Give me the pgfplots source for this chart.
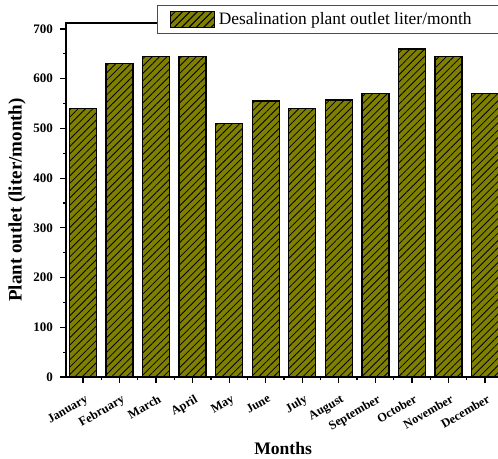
\documentclass[border=0pt]{standalone}
\usepackage{fontspec}
\setmainfont{Liberation Serif}
\usepackage{pgfplots}
\pgfplotsset{compat=1.18}
\usetikzlibrary{patterns.meta}
\definecolor{barolive}{RGB}{128,128,0}
\begin{document}
\begin{tikzpicture}
\begin{axis}[
  scale only axis, width=218pt, height=177pt,
  xmin=-0.465, xmax=11.465, ymin=0, ymax=712,
  ybar, bar width=13.5pt,
  xtick={0,...,11},
  xticklabels={January,February,March,April,May,June,July,August,September,October,November,December},
  minor x tick num=1,
  ytick={0,100,...,700}, minor y tick num=1,
  tick align=outside, tick pos=left,
  major tick length=3pt, minor tick length=1.6pt,
  every tick/.style={black, line width=0.6pt},
  axis line style={line width=0.7pt},
  /pgf/number format/assume math mode=true,
  xticklabel style={rotate=30, anchor=north east, font=\bfseries\fontsize{6.2}{7}\selectfont, inner sep=0.5pt, yshift=-4.5pt, xshift=-1.5pt},
  yticklabel style={font=\bfseries\fontsize{6.5}{7}\selectfont},
  xlabel={Months}, ylabel={Plant outlet (liter/month)},
  xlabel style={at={(axis description cs:0.498,-0.2006)}, anchor=center, font=\bfseries\fontsize{8.8}{9.5}\selectfont},
  ylabel style={at={(axis description cs:-0.112,0.5)}, anchor=center, font=\bfseries\fontsize{9.5}{10}\selectfont},
  legend style={at={(0.2087,1.05)}, anchor=north west, draw=black!70, line width=0.6pt, fill=white,
    font=\fontsize{8.7}{9.5}\selectfont, inner xsep=6pt, inner ysep=1.2pt},
  legend image code/.code={\draw[fill=barolive, draw=black, line width=0.6pt, postaction={pattern={Lines[angle=45,distance=2.6pt,line width=0.4pt]}, pattern color=black}] (0pt,-4pt) rectangle (22pt,4pt);},
]
\addplot[fill=barolive, draw=black, line width=0.7pt,
  postaction={pattern={Lines[angle=45,distance=2.6pt,line width=0.4pt]}, pattern color=black}]
  coordinates {(0,540) (1,630) (2,645) (3,645) (4,510) (5,555) (6,540) (7,557) (8,570) (9,660) (10,645) (11,570)};
\addlegendentry{Desalination plant outlet liter/month\hspace*{24pt}\mbox{}}
\coordinate (bl) at (rel axis cs:0,0);
\coordinate (tr) at (rel axis cs:1,1);
\end{axis}
\pgfresetboundingbox
\useasboundingbox ([xshift=-33pt,yshift=-41pt]bl) rectangle ([xshift=-2pt,yshift=11.5pt]tr);
\end{tikzpicture}
\end{document}
